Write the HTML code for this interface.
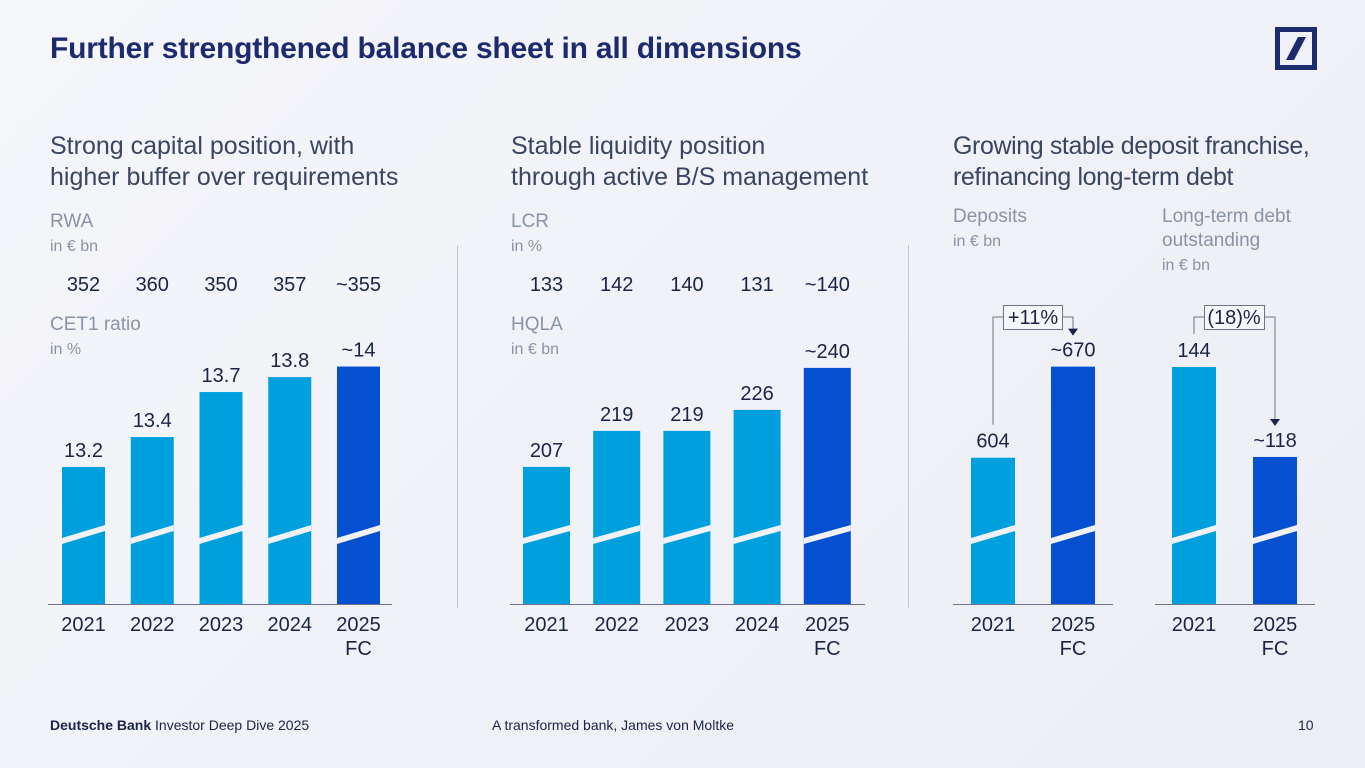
<!DOCTYPE html>
<html><head><meta charset="utf-8">
<style>
body{margin:0;width:1365px;height:768px;overflow:hidden;background:linear-gradient(135deg,#f5f6fa,#eceef5);font-family:"Liberation Sans",sans-serif;position:relative}
.t{position:absolute;white-space:nowrap}
h1{position:absolute;left:50px;top:32px;margin:0;font-size:30px;color:#1e2a6e;font-weight:bold;letter-spacing:-0.2px}
.sub{font-size:25px;color:#3a4561;line-height:31px}
.lab{font-size:19px;color:#8a93a6;line-height:24px}
.lab small{font-size:16px}
.foot{font-size:14px;color:#1b2346}
svg{position:absolute;left:0;top:0}
</style></head><body>
<h1>Further strengthened balance sheet in all dimensions</h1>
<svg width="1365" height="768" style="pointer-events:none"><rect x="1277.5" y="29.5" width="37" height="38" fill="none" stroke="#1e2a6e" stroke-width="5"/><polygon points="1298,37 1306,37 1294,60 1286,60" fill="#1e2a6e"/></svg>
<div class="t sub" style="left:50px;top:131px">Strong capital position, with<br>higher buffer over requirements</div>
<div class="t sub" style="left:511px;top:131px">Stable liquidity position<br>through active B/S management</div>
<div class="t sub" style="left:953px;top:131px;letter-spacing:-0.4px">Growing stable deposit franchise,<br>refinancing long-term debt</div>
<div class="t lab" style="left:50px;top:210px">RWA<br><small>in € bn</small></div>
<div class="t lab" style="left:50px;top:313px">CET1 ratio<br><small>in %</small></div>
<div class="t lab" style="left:511px;top:210px">LCR<br><small>in %</small></div>
<div class="t lab" style="left:511px;top:313px">HQLA<br><small>in € bn</small></div>
<div class="t lab" style="left:953px;top:205px">Deposits<br><small>in € bn</small></div>
<div class="t lab" style="left:1162px;top:205px">Long-term debt<br>outstanding<br><small>in € bn</small></div>
<div class="t foot" style="left:50px;top:717px"><b>Deutsche Bank</b> Investor Deep Dive 2025</div>
<div class="t foot" style="left:492px;top:717px">A transformed bank, James von Moltke</div>
<div class="t foot" style="left:1298px;top:717px">10</div>
<svg id="c" width="1365" height="768"></svg>
<script>
const cetYears=["2021","2022","2023","2024","2025|FC"];
const cetValues=[13.2,13.4,13.7,13.8,13.87];
const cetLabels=["13.2","13.4","13.7","13.8","~14"];
const rwaLabels=["352","360","350","357","~355"];
const hqlaValues=[207,219,219,226,240];
const hqlaLabels=["207","219","219","226","~240"];
const lcrLabels=["133","142","140","131","~140"];
const depYears=["2021","2025|FC"];
const depValues=[604,670];
const depLabels=["604","~670"];
const ltdValues=[144,118];
const ltdLabels=["144","~118"];
const S="http://www.w3.org/2000/svg",svg=document.getElementById('c');
const LIGHT="#00a0df",DARK="#0550d1",BASE=604;
function mk(tag,attrs,name){const e=document.createElementNS(S,tag);for(const k in attrs)e.setAttribute(k,attrs[k]);


svg.appendChild(e);return e;}
function txt(x,y,s,name,size,col,anchor){const e=mk('text',{x:x,y:y,'font-size':size||20,fill:col||"#1b2346",'text-anchor':anchor||'middle','font-family':'Liberation Sans, sans-serif'},name);e.textContent=s;return e;}
function panel(id,x0,pitch,bw,vals,labs,years,vmin,pxPer,axisX1,axisX2,topLabels,darkIdx){
  const yScale=v=>BASE-(v-vmin)*pxPer;
  mk('line',{x1:axisX1,x2:axisX2,y1:BASE+0.5,y2:BASE+0.5,stroke:"#6d7487","stroke-width":1},id+'-axis');
  vals.forEach((v,i)=>{const x=x0+i*pitch,y=yScale(v);
    mk('rect',{x:x,y:y,width:bw,height:BASE-y,fill:i>=darkIdx?DARK:LIGHT},id+'-bar-'+i);
    mk('polygon',{points:`${x},${538} ${x+bw},${525} ${x+bw},${531} ${x},${544}`,fill:"#f1f2f7"},id+'-break-'+i);
    txt(x+bw/2,y-10,labs[i],id+'-value-'+i);
    const yr=years[i].split('|');txt(x+bw/2,631,yr[0],id+'-year-'+i);if(yr[1])txt(x+bw/2,655,yr[1],id+'-year-sub-'+i);
    if(topLabels)txt(x+bw/2,291,topLabels[i],id+'-top-'+i);
  });
  return yScale;
}
panel('cet1',62,68.75,43,cetValues,cetLabels,cetYears,12.287,150,48,392,rwaLabels,4);
panel('hqla',523,70.2,47,hqlaValues,hqlaLabels,cetYears,161.3,3,510,865,lcrLabels,4);
const dy=panel('dep',971,80,44,depValues,depLabels,depYears,498,1.38,953,1113,null,1);
const ly=panel('ltd',1172,81,44,ltdValues,ltdLabels,depYears,75.5,3.46,1155,1315,null,1);
mk('line',{x1:457.5,x2:457.5,y1:245,y2:608,stroke:"#c4c8d3"},'divider-1');
mk('line',{x1:908.5,x2:908.5,y1:245,y2:608,stroke:"#c4c8d3"},'divider-2');
mk('polyline',{points:`993,${dy(depValues[0])-33} 993,317 1003,317`,fill:"none",stroke:"#6d7487"},'dep-arrow-left');
mk('polyline',{points:`1063,317 1073,317 1073,${dy(depValues[1])-37}`,fill:"none",stroke:"#6d7487"},'dep-arrow-right');
mk('polygon',{points:`1068,${dy(depValues[1])-38} 1078,${dy(depValues[1])-38} 1073,${dy(depValues[1])-31}`,fill:"#1b2346"},'dep-arrowhead');
mk('rect',{x:1003.5,y:305.5,width:59,height:24,fill:"#f6f7fa",stroke:"#6d7487"},'dep-change-box');
txt(1033,324,"+11%",'dep-change-label');
mk('polyline',{points:`1194,${ly(ltdValues[0])-33} 1194,317 1204,317`,fill:"none",stroke:"#6d7487"},'ltd-arrow-left');
mk('polyline',{points:`1265,317 1275,317 1275,${ly(ltdValues[1])-37}`,fill:"none",stroke:"#6d7487"},'ltd-arrow-right');
mk('polygon',{points:`1270,${ly(ltdValues[1])-38} 1280,${ly(ltdValues[1])-38} 1275,${ly(ltdValues[1])-31}`,fill:"#1b2346"},'ltd-arrowhead');
mk('rect',{x:1204.5,y:305.5,width:60,height:24,fill:"#f6f7fa",stroke:"#6d7487"},'ltd-change-box');
txt(1234,324,"(18)%",'ltd-change-label');
</script>
</body></html>
